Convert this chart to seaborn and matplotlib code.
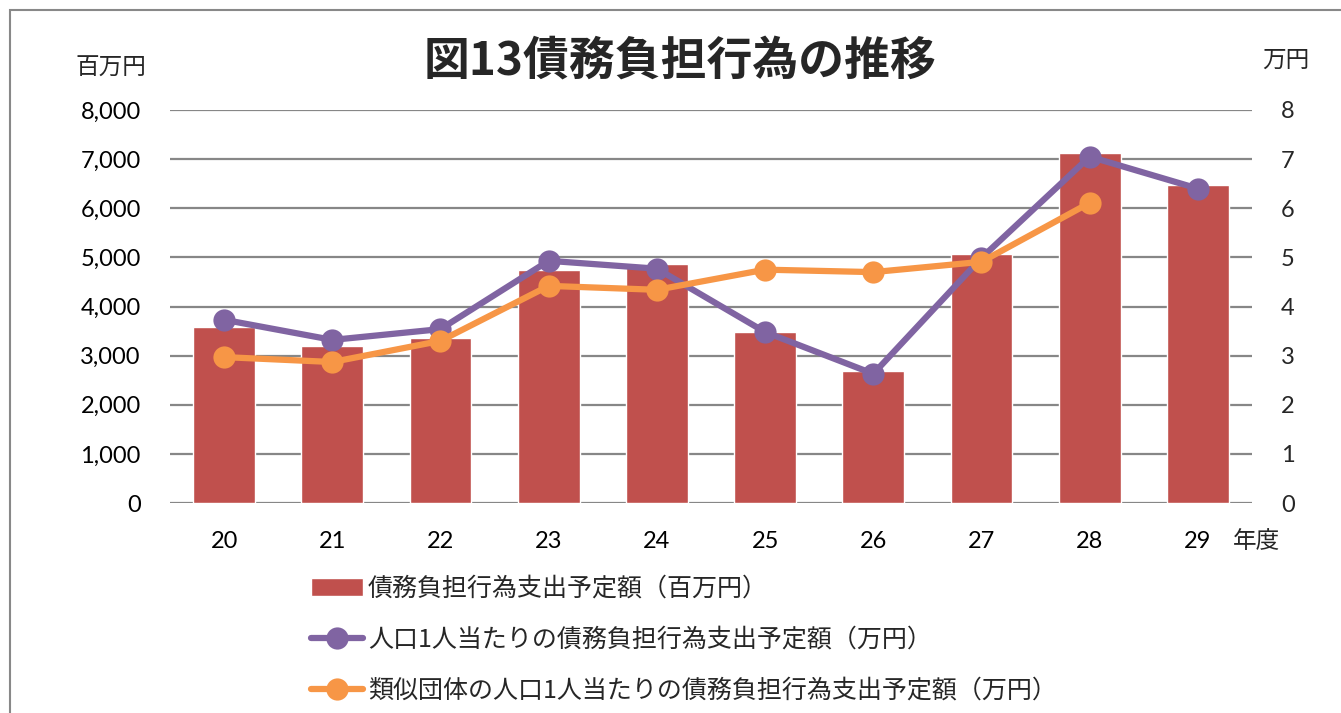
import numpy as np
import pandas as pd
import matplotlib
matplotlib.use('Agg')
import matplotlib.pyplot as plt
import matplotlib.ticker as mticker
from matplotlib.patches import Rectangle
import seaborn as sns

years = ['20', '21', '22', '23', '24', '25', '26', '27', '28', '29']
budget = [3580, 3200, 3360, 4745, 4865, 3485, 2690, 5070, 7130, 6480]
per_person = [3.73, 3.32, 3.54, 4.93, 4.77, 3.48, 2.63, 4.99, 7.05, 6.40]
similar = [2.97, 2.87, 3.30, 4.42, 4.34, 4.75, 4.70, 4.91, 6.11, np.nan]

label_bar = '債務負担行為支出予定額（百万円）'
label_p = '人口1人当たりの債務負担行為支出予定額（万円）'
label_s = '類似団体の人口1人当たりの債務負担行為支出予定額（万円）'

sns.set_style('white')
plt.rcParams['font.family'] = ['Lato', 'Noto Sans CJK JP', 'DejaVu Sans']
jp = ['Noto Sans CJK JP', 'DejaVu Sans']

fig = plt.figure(figsize=(13.41, 7.13), dpi=100)
ax = fig.add_axes([170 / 1341, 1 - 503 / 713, 1082 / 1341, 393 / 713])

df = pd.DataFrame({'year': years, 'budget': budget, 'per': per_person, 'sim': similar})
df['pos'] = np.arange(len(df))

sns.barplot(data=df, x='year', y='budget', color='#C0504D', width=0.57,
            saturation=1, label=label_bar, ax=ax, zorder=2)
ax.set_xlim(-0.5, len(years) - 0.5)
ax.set_ylim(0, 8000)
ax.set_yticks(range(0, 8001, 1000))
ax.yaxis.set_major_formatter(mticker.FuncFormatter(lambda v, p: f'{int(v):,}'))
ax.grid(axis='y', color='#878787', linewidth=1.6, zorder=0)
ax.set_axisbelow(True)
ax.set_xlabel('')
ax.set_ylabel('')
for s in ax.spines.values():
    s.set_visible(False)
ax.tick_params(axis='both', length=0, labelsize=17, colors='black')
ax.tick_params(axis='y', pad=21)
ax.tick_params(axis='x', pad=20)

ax2 = ax.twinx()
sns.lineplot(data=df, x='pos', y='per', color='#8064A2', linewidth=4.5, marker='o',
             markersize=16, markeredgewidth=0, label=label_p, ax=ax2)
sns.lineplot(data=df, x='pos', y='sim', color='#F79646', linewidth=4.5, marker='o',
             markersize=16, markeredgewidth=0, label=label_s, ax=ax2)
ax2.set_ylim(0, 8)
ax2.set_yticks(range(0, 9))
ax2.set_xlim(-0.5, len(years) - 0.5)
ax2.set_xlabel('')
ax2.set_ylabel('')
for s in ax2.spines.values():
    s.set_visible(False)
ax2.tick_params(axis='y', length=0, labelsize=17, pad=21)

h1, l1 = ax.get_legend_handles_labels()
h2, l2 = ax2.get_legend_handles_labels()
for a in (ax, ax2):
    if a.get_legend():
        a.get_legend().remove()

leg = fig.legend(h1 + h2, l1 + l2, loc='upper left', bbox_to_anchor=(288 / 1341, 1 - 553 / 713),
                 frameon=False, prop={'family': jp, 'size': 18}, handlelength=2.1,
                 handleheight=0.75, handletextpad=0.2, labelspacing=1.0)

fig.text(680 / 1341, 1 - 62 / 713, '図13債務負担行為の推移', ha='center', va='center',
         fontsize=33, fontweight='bold', family=jp)
fig.text(111 / 1341, 1 - 68 / 713, '百万円', ha='center', va='center', fontsize=17, family=jp)
fig.text(1286 / 1341, 1 - 60 / 713, '万円', ha='center', va='center', fontsize=17, family=jp)
fig.text(1256 / 1341, 1 - 541 / 713, '年度', ha='center', va='center', fontsize=17, family=jp)

fig.patches.append(Rectangle((10 / 1341, -0.2), 1.2, 1.2 - 10 / 713, transform=fig.transFigure,
                             fill=False, edgecolor='#888888', linewidth=1.5, figure=fig))

fig.savefig('out.png', dpi=100)
